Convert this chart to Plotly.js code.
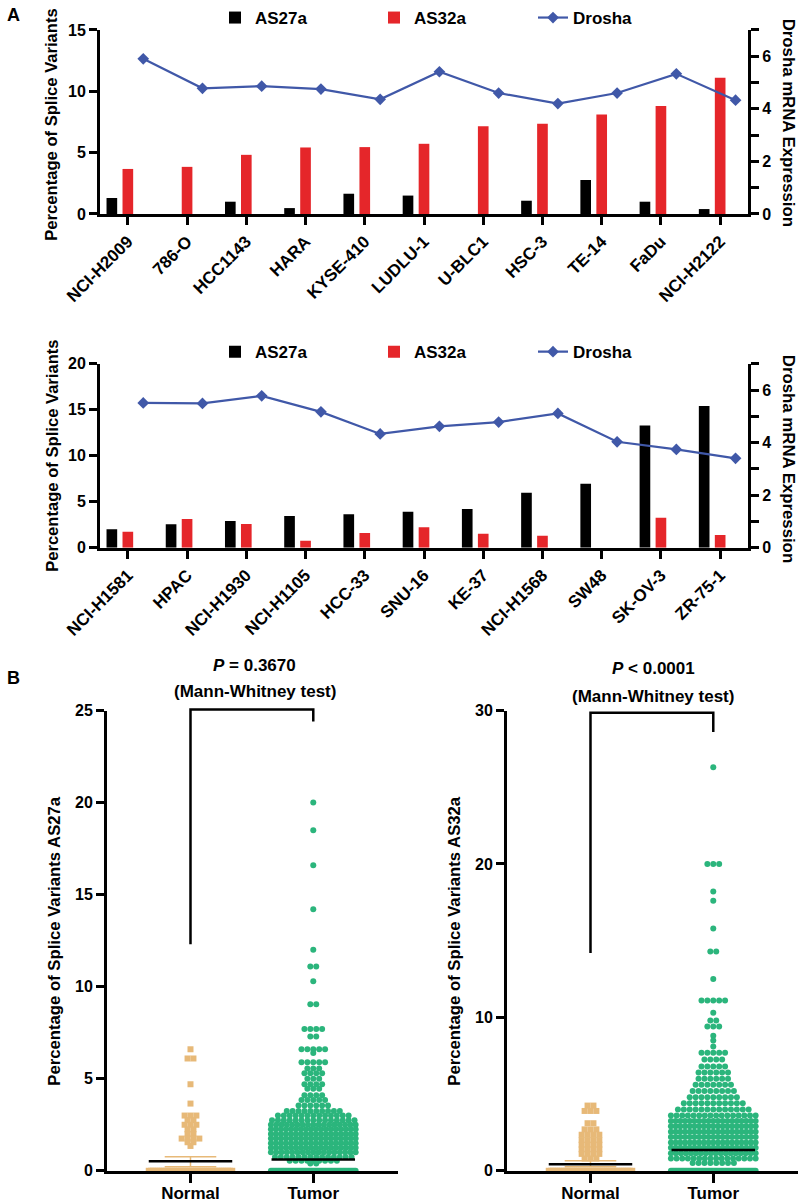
<!DOCTYPE html>
<html>
<head>
<meta charset="utf-8">
<script src="https://cdn.plot.ly/plotly-3.0.1.min.js"></script>
<style>
  html, body { margin: 0; padding: 0; background: #fff; }
  #chart { width: 800px; height: 1203px; }
</style>
</head>
<body>
<div id="chart"></div>
<script>
// Panel A, upper row of cell lines
var linesTop = ['NCI-H2009', '786-O', 'HCC1143', 'HARA', 'KYSE-410', 'LUDLU-1', 'U-BLC1', 'HSC-3', 'TE-14', 'FaDu', 'NCI-H2122'];
var as27aTop = [1.3, 0, 1.0, 0.48, 1.65, 1.5, 0, 1.08, 2.77, 1.0, 0.4];
var as32aTop = [3.67, 3.84, 4.82, 5.42, 5.45, 5.72, 7.15, 7.36, 8.1, 8.79, 11.1];
var droshaTop = [5.9, 4.78, 4.86, 4.75, 4.36, 5.41, 4.6, 4.2, 4.6, 5.33, 4.33];

// Panel A, lower row of cell lines
var linesBottom = ['NCI-H1581', 'HPAC', 'NCI-H1930', 'NCI-H1105', 'HCC-33', 'SNU-16', 'KE-37', 'NCI-H1568', 'SW48', 'SK-OV-3', 'ZR-75-1'];
var as27aBottom = [1.99, 2.54, 2.9, 3.44, 3.62, 3.91, 4.2, 5.98, 6.96, 13.3, 15.4];
var as32aBottom = [1.74, 3.12, 2.57, 0.76, 1.59, 2.21, 1.52, 1.3, 0, 3.26, 1.38];
var droshaBottom = [5.51, 5.49, 5.78, 5.17, 4.33, 4.62, 4.78, 5.11, 4.03, 3.74, 3.4];

// Panel B: distinct values and number of samples at each value
var groups = ['Normal', 'Tumor'];
var normal27Vals = [6.6, 6.1, 4.7, 3.65, 3.0, 2.75, 2.5, 2.25, 2.0, 1.75, 1.55, 1.35, 0];
var normal27Counts = [1, 2, 1, 1, 3, 2, 3, 2, 2, 4, 2, 1, 40];
var tumor27Vals = [20, 18.5, 16.6, 14.2, 12.0, 11.1, 10.3, 9.05, 7.7, 7.3, 6.6, 6.4, 5.9, 5.55, 5.3, 5.0, 4.7, 4.45, 4.1, 3.85, 3.55, 3.25, 3.0, 2.75, 2.5, 2.25, 2.0, 1.75, 1.5, 1.25, 1.0, 0.75, 0.55, 0.4, 0];
var tumor27Counts = [1, 1, 1, 1, 1, 2, 1, 2, 4, 2, 5, 1, 5, 3, 4, 3, 4, 3, 4, 5, 6, 10, 13, 15, 17, 18, 18, 18, 18, 18, 17, 14, 9, 2, 60];
var normal32Vals = [4.25, 3.9, 3.1, 2.7, 2.35, 2.0, 1.7, 1.4, 1.1, 0.8, 0];
var normal32Counts = [2, 3, 2, 3, 4, 4, 4, 4, 4, 3, 40];
var tumor32Vals = [26.3, 20.0, 18.2, 17.6, 15.8, 14.3, 12.5, 11.1, 10.3, 9.8, 9.4, 8.8, 8.5, 8.1, 7.7, 7.25, 6.8, 6.4, 6.0, 5.6, 5.2, 4.8, 4.4, 4.0, 3.6, 3.25, 2.9, 2.55, 2.2, 1.85, 1.5, 1.15, 0.8, 0.5, 0];
var tumor32Counts = [1, 3, 1, 1, 1, 2, 1, 5, 1, 2, 3, 1, 1, 1, 5, 4, 5, 6, 6, 7, 8, 9, 11, 13, 16, 19, 19, 19, 19, 19, 19, 18, 16, 8, 60];

// centre lines (Normal, Tumor) and Normal error bars
var centre27 = [0.52, 0.61];
var normal27Err = [0.22, 0.76];
var centre32 = [0.43, 1.35];
var normal32Err = [0.26, 0.65];

// significance brackets: Normal end, top, Tumor end
var bracket27 = [12.3, 25.06, 24.4];
var bracket32 = [14.2, 29.86, 28.6];

var W = 800, H = 1203;
function px(x) { return x / W; }
function py(y) { return 1 - y / H; }

var BLACK = '#000000', RED = '#E5262A', BLUE = '#4058A8', GREEN = '#2BB57C', TAN = '#E7B978';

// beeswarm-ish spread of equal values
function swarm(vals, counts, centre, halfWidth, gap) {
    var xs = [], ys = [];
    for (var i = 0; i < vals.length; i++) {
        var n = counts[i];
        var step = n > 1 ? Math.min(gap, 2 * halfWidth / (n - 1)) : 0;
        for (var k = 0; k < n; k++) {
            xs.push(centre + (k - (n - 1) / 2) * step);
            ys.push(vals[i]);
        }
    }
    return {x: xs, y: ys};
}

function idx(arr, shift) { return arr.map(function(_, i) { return i + shift; }); }

var data = [];

function addBarPanel(names, s27, s32, dro, xa, ya, ya2, legendId) {
    data.push({
        type: 'bar', x: idx(names, -0.27), y: s27, width: 0.18, name: 'AS27a',
        marker: {color: BLACK}, xaxis: xa, yaxis: ya, legend: legendId
    });
    data.push({
        type: 'bar', x: idx(names, 0), y: s32, width: 0.18, name: 'AS32a',
        marker: {color: RED}, xaxis: xa, yaxis: ya, legend: legendId
    });
    data.push({
        type: 'scatter', mode: 'lines+markers', x: idx(names, 0.26), y: dro, name: 'Drosha',
        line: {color: BLUE, width: 2.2}, marker: {symbol: 'diamond', size: 9, color: BLUE},
        xaxis: xa, yaxis: ya2, legend: legendId
    });
}

addBarPanel(linesTop, as27aTop, as32aTop, droshaTop, 'x', 'y', 'y2', 'legend');
addBarPanel(linesBottom, as27aBottom, as32aBottom, droshaBottom, 'x2', 'y3', 'y4', 'legend2');

function addSwarmPanel(nv, nc, tv, tc, centre, err, xa, ya) {
    var n = swarm(nv, nc, 0, 0.34, 0.048);
    var t = swarm(tv, tc, 1, 0.345, 0.048);
    data.push({
        type: 'scatter', mode: 'markers', x: n.x, y: n.y, showlegend: false, cliponaxis: false,
        marker: {symbol: 'square', size: 6, color: TAN}, xaxis: xa, yaxis: ya
    });
    data.push({
        type: 'scatter', mode: 'markers', x: t.x, y: t.y, showlegend: false, cliponaxis: false,
        marker: {symbol: 'circle', size: 6, color: GREEN}, xaxis: xa, yaxis: ya
    });
    // Normal error bar
    data.push({
        type: 'scatter', mode: 'lines', showlegend: false, cliponaxis: false,
        x: [-0.21, 0.21, null, 0, 0, null, -0.21, 0.21],
        y: [err[0], err[0], null, err[0], err[1], null, err[1], err[1]],
        line: {color: TAN, width: 1.5}, xaxis: xa, yaxis: ya
    });
    for (var g = 0; g < 2; g++) {
        data.push({
            type: 'scatter', mode: 'lines', showlegend: false, cliponaxis: false,
            x: [g - 0.34, g + 0.34], y: [centre[g], centre[g]],
            line: {color: BLACK, width: 2.5}, xaxis: xa, yaxis: ya
        });
    }
}

addSwarmPanel(normal27Vals, normal27Counts, tumor27Vals, tumor27Counts, centre27, normal27Err, 'x3', 'y5');
addSwarmPanel(normal32Vals, normal32Counts, tumor32Vals, tumor32Counts, centre32, normal32Err, 'x4', 'y6');

// axis geometry
var domXA = [px(100), px(748)];
var domYA1 = [py(211.5), py(27)];
var domYA2 = [py(546), py(361.7)];
var domXB1 = [px(107), px(398)];
var domXB2 = [px(507), px(798)];
var domYB = [py(1170.7), py(709.3)];
var rangeXA = [-0.47, 10.47];
var rangeXB = [-0.68, 1.69];

var tickFont = {size: 16, color: BLACK, weight: 'bold'};

function baseAxis(extra) {
    var ax = {
        showline: true, linecolor: BLACK, linewidth: 3, showgrid: false, zeroline: false,
        ticks: 'outside', ticklen: 8, tickwidth: 3, tickcolor: BLACK, tickfont: tickFont, fixedrange: true
    };
    for (var k in extra) ax[k] = extra[k];
    return ax;
}

var droshaTicks = [0, 1, 2, 3, 4, 5, 6, 7];
var droshaText = ['0', '', '2', '', '4', '', '6', ''];
var catFont = {size: 17, color: BLACK, weight: 'bold'};
var groupFont = {size: 17, color: BLACK, weight: 'bold'};

var layout = {
    width: W, height: H,
    margin: {l: 0, r: 0, t: 0, b: 0},
    paper_bgcolor: 'white', plot_bgcolor: 'white',
    font: {family: '"Liberation Sans", Arial, sans-serif', size: 16, color: BLACK, weight: 'bold'},
    barmode: 'overlay',
    hovermode: false,
    xaxis: baseAxis({domain: domXA, range: rangeXA, anchor: 'y', tickvals: idx(linesTop, 0), ticktext: linesTop, tickangle: -45, tickfont: catFont}),
    yaxis: baseAxis({domain: domYA1, range: [0, 15], anchor: 'x', tickvals: [0, 5, 10, 15]}),
    yaxis2: baseAxis({range: [0, 7], overlaying: 'y', side: 'right', anchor: 'x', tickvals: droshaTicks, ticktext: droshaText}),
    xaxis2: baseAxis({domain: domXA, range: rangeXA, anchor: 'y3', tickvals: idx(linesBottom, 0), ticktext: linesBottom, tickangle: -45, tickfont: catFont}),
    yaxis3: baseAxis({domain: domYA2, range: [0, 20], anchor: 'x2', tickvals: [0, 5, 10, 15, 20]}),
    yaxis4: baseAxis({range: [0, 7], overlaying: 'y3', side: 'right', anchor: 'x2', tickvals: droshaTicks, ticktext: droshaText}),
    xaxis3: baseAxis({domain: domXB1, range: rangeXB, anchor: 'y5', tickvals: [0, 1], ticktext: groups, ticklen: 9, ticklabelstandoff: -4, tickfont: groupFont}),
    yaxis5: baseAxis({domain: domYB, range: [0, 25], anchor: 'x3', tickvals: [0, 5, 10, 15, 20, 25]}),
    xaxis4: baseAxis({domain: domXB2, range: rangeXB, anchor: 'y6', tickvals: [0, 1], ticktext: groups, ticklen: 9, ticklabelstandoff: -4, tickfont: groupFont}),
    yaxis6: baseAxis({domain: domYB, range: [0, 30], anchor: 'x4', tickvals: [0, 10, 20, 30]}),
    legend: {
        orientation: 'h', x: px(215), y: py(15), xanchor: 'left', yanchor: 'middle',
        entrywidth: 114, entrywidthmode: 'pixels', font: {size: 17, weight: 'bold'}, bgcolor: 'rgba(0,0,0,0)'
    },
    legend2: {
        orientation: 'h', x: px(215), y: py(350), xanchor: 'left', yanchor: 'middle',
        entrywidth: 114, entrywidthmode: 'pixels', font: {size: 17, weight: 'bold'}, bgcolor: 'rgba(0,0,0,0)'
    },
    annotations: [],
    shapes: []
};

function note(text, x, y, size, angle) {
    layout.annotations.push({
        text: text, x: px(x), y: py(y), xref: 'paper', yref: 'paper', showarrow: false,
        xanchor: 'center', yanchor: 'middle',
        textangle: angle || 0, font: {size: size, weight: 'bold', color: BLACK}
    });
}

note('A', 13, 12, 18);
note('B', 13, 677, 18);
note('Percentage of Splice Variants', 52, 122, 16.6, -90);
note('Drosha mRNA Expression', 788, 120, 16.8, 90);
note('Percentage of Splice Variants', 53, 454, 16.6, -90);
note('Drosha mRNA Expression', 788, 457, 16.8, 90);
note('Percentage of Splice Variants AS27a', 55, 941, 16.7, -90);
note('Percentage of Splice Variants AS32a', 455, 941, 16.7, -90);
note('<i>P</i> = 0.3670', 255, 664, 17);
note('(Mann-Whitney test)', 255, 690, 17);
note('<i>P</i> < 0.0001', 653, 667, 17);
note('(Mann-Whitney test)', 653, 695, 17);

// brackets, converted from data values to paper space
function toPaper(v, dom, rng) { return dom[0] + (v - rng[0]) / (rng[1] - rng[0]) * (dom[1] - dom[0]); }
function bracket(b, domX, yMax) {
    var x0 = toPaper(0, domX, rangeXB), x1 = toPaper(1, domX, rangeXB);
    var r = [0, yMax];
    var p = 'M' + x0 + ',' + toPaper(b[0], domYB, r) + ' L' + x0 + ',' + toPaper(b[1], domYB, r) +
        ' L' + x1 + ',' + toPaper(b[1], domYB, r) + ' L' + x1 + ',' + toPaper(b[2], domYB, r);
    layout.shapes.push({type: 'path', xref: 'paper', yref: 'paper', path: p, line: {color: BLACK, width: 2.5}});
}
bracket(bracket27, domXB1, 25);
bracket(bracket32, domXB2, 30);

Plotly.newPlot('chart', data, layout, {staticPlot: true, displayModeBar: false});
</script>
</body>
</html>
